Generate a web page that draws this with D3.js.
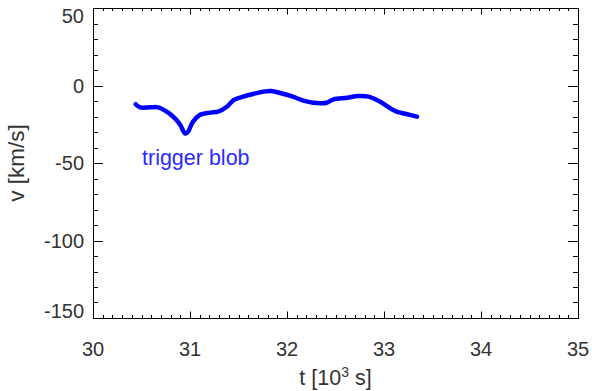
<!DOCTYPE html>
<html>
<head>
<meta charset='utf-8' />
<title>trigger blob velocity</title>
<style>
  body { margin: 0; background: #fff; }
  text { font-family: "Liberation Sans", Arial, Helvetica, sans-serif; }
</style>
</head>
<body>
<div id="wrapper"></div>
<script src='https://d3js.org/d3.v7.min.js' charset='utf-8'></script>
<script>
// time in 10^3 s and line-of-sight velocity in km/s
const tValues = [30.44, 30.485, 30.59, 30.67, 30.76, 30.845, 30.90, 30.95, 30.98, 31.03,
                 31.10, 31.21, 31.29, 31.38, 31.45, 31.55, 31.65, 31.75, 31.84, 31.94,
                 32.06, 32.17, 32.27, 32.41, 32.48, 32.62, 32.73, 32.84, 32.96, 33.04,
                 33.13, 33.23, 33.34]
const vValues = [-12.1, -14.1, -14.1, -14.1, -16.9, -21.2, -25.5, -31.0, -29.8, -23.4,
                 -19.0, -17.5, -16.9, -13.7, -9.4, -7.2, -5.5, -4.0, -3.5, -5.0,
                 -7.2, -9.8, -11.1, -11.1, -8.9, -7.9, -6.8, -7.2, -10.5, -13.7,
                 -16.9, -18.4, -20.1]
const xTicks = [30, 31, 32, 33, 34, 35]
const yTicks = [50, 0, -50, -100, -150]
const label = 'trigger blob'

const width = 592
const height = 391
const margin = {top: 8, right: 14, bottom: 73, left: 93}
const x0 = margin.left, x1 = width - margin.right
const y0 = margin.top, y1 = height - margin.bottom

const x = d3.scaleLinear().domain([30, 35]).range([x0, x1])
const y = d3.scaleLinear().domain([-150, 50]).range([y1, y0])

const svg = d3.select('#wrapper').append('svg')
    .attr('width', width)
    .attr('height', height)

// ticks on all four sides, IDL style
const g = svg.append('g').attr('stroke', '#000').attr('stroke-width', 1)
const xMinor = d3.range(30, 35.0001, 0.1)
const yMinor = d3.range(-150, 50.0001, 10)
xMinor.forEach(t => {
  const major = xTicks.some(v => Math.abs(v - t) < 1e-6)
  const len = major ? 6.5 : 3
  const px = Math.round(x(t)) + 0.5
  g.append('line').attr('x1', px).attr('x2', px).attr('y1', y1).attr('y2', y1 - len)
  g.append('line').attr('x1', px).attr('x2', px).attr('y1', y0).attr('y2', y0 + len)
})
yMinor.forEach(v => {
  const major = yTicks.some(w => Math.abs(w - v) < 1e-6)
  const len = major ? 10 : 5
  const py = Math.round(y(v)) + 0.5
  g.append('line').attr('x1', x0).attr('x2', x0 + len).attr('y1', py).attr('y2', py)
  g.append('line').attr('x1', x1).attr('x2', x1 - len).attr('y1', py).attr('y2', py)
})

svg.append('rect')
    .attr('x', x0 + 0.5).attr('y', y0 + 0.5)
    .attr('width', x1 - x0).attr('height', y1 - y0)
    .attr('fill', 'none').attr('stroke', '#000').attr('stroke-width', 1)

// tick labels
svg.append('g').selectAll('text')
  .data(xTicks)
  .join('text')
    .attr('x', d => x(d))
    .attr('y', 356)
    .attr('text-anchor', 'middle')
    .attr('font-size', 20)
    .attr('fill', '#333')
    .text(d => d)

svg.append('g').selectAll('text')
  .data(yTicks)
  .join('text')
    .attr('x', x0 - 9)
    .attr('y', d => Math.min(Math.max(y(d) + 7, y0 + 15), y1))
    .attr('text-anchor', 'end')
    .attr('font-size', 20)
    .attr('fill', '#333')
    .text(d => d)

// axis titles
const xt = svg.append('text')
    .attr('x', (x0 + x1) / 2)
    .attr('y', 385)
    .attr('text-anchor', 'middle')
    .attr('font-size', 21.5)
    .attr('fill', '#333')
xt.append('tspan').text('t [10')
xt.append('tspan').attr('font-size', 14).attr('dy', -8).text('3')
xt.append('tspan').attr('dy', 8).text(' s]')

svg.append('text')
    .attr('transform', `translate(24,${(y0 + y1) / 2}) rotate(-90)`)
    .attr('text-anchor', 'middle')
    .attr('font-size', 22.5)
    .attr('fill', '#333')
    .text('v [km/s]')

// data
const pts = tValues.map((t, i) => [t, vValues[i]])
const line = d3.line()
    .x(d => x(d[0]))
    .y(d => y(d[1]))
    .curve(d3.curveCatmullRom)

svg.append('path')
    .datum(pts)
    .attr('d', line)
    .attr('fill', 'none')
    .attr('stroke', '#0000ff')
    .attr('stroke-width', 4.5)
    .attr('stroke-linejoin', 'round')
    .attr('stroke-linecap', 'round')

svg.append('text')
    .attr('x', 142)
    .attr('y', 165)
    .attr('font-size', 21.5)
    .attr('fill', '#2a2aff')
    .text(label)
</script>
</body>
</html>
